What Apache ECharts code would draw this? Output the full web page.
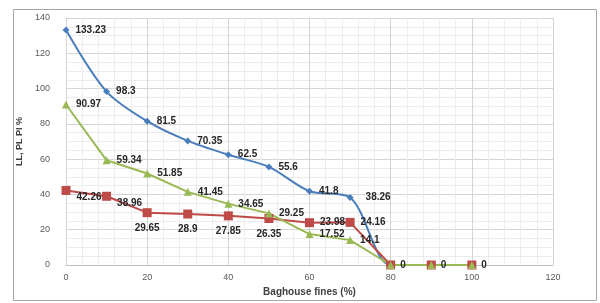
<!DOCTYPE html>
<html>
<head>
<meta charset="utf-8">
<script src="https://cdn.jsdelivr.net/npm/echarts@6/dist/echarts.min.js"></script>
<style>
html, body { margin: 0; padding: 0; background: #fff; }
#chart { width: 600px; height: 303px; }
</style>
</head>
<body>
<div id="chart"></div>
<script>
var fines = [0, 10, 20, 30, 40, 50, 60, 70, 80, 90, 100];
var ll = [133.23, 98.3, 81.5, 70.35, 62.5, 55.6, 41.8, 38.26, 0, 0, 0];
var pl = [42.26, 38.96, 29.65, 28.9, 27.85, 26.35, 23.98, 24.16, 0, 0, 0];
var pi = [90.97, 59.34, 51.85, 41.45, 34.65, 29.25, 17.52, 14.1, 0, 0, 0];

// where each point's label sits
var llPos = ['right', 'right', 'right', 'right', 'right', 'right', 'right', 'right', 'right', 'right', 'right'];
var plPos = ['bottomRight', 'bottomRight', 'bottom', 'bottom', 'bottom', 'bottom', 'right', 'right', 'none', 'none', 'none'];
var piPos = ['right', 'right', 'right', 'right', 'right', 'right', 'right', 'right', 'none', 'none', 'none'];

var labelStyle = { fontSize: 10, fontWeight: 'bold', color: '#262626', fontFamily: 'Liberation Sans' };

function buildData(vals, pos) {
    return vals.map(function (v, i) {
        var p = pos[i];
        var lab = Object.assign({}, labelStyle, { show: p !== 'none', distance: 6 });
        if (p === 'bottomRight') {
            lab.position = 'right';
            lab.offset = [0, 7];
        } else if (p !== 'none') {
            lab.position = p;
        }
        if (i === 7 && vals === ll) lab.distance = 12;
        return { value: [fines[i], v], label: lab };
    });
}

var chart = echarts.init(document.getElementById('chart'));
var option = {
    animation: false,
    graphic: [{
        type: 'rect',
        shape: { x: 13.5, y: 9.5, width: 583, height: 291 },
        style: { fill: 'none', stroke: '#a6a6a6', lineWidth: 1 }
    }],
    grid: { left: 66, right: 47, top: 18, bottom: 38 },
    xAxis: {
        type: 'value', min: 0, max: 120, interval: 20,
        name: 'Baghouse fines (%)', nameLocation: 'middle', nameGap: 18,
        nameTextStyle: { fontSize: 10, fontWeight: 'bold', color: '#404040', fontFamily: 'Liberation Sans' },
        axisLine: { show: true, lineStyle: { color: '#bfbfbf' } },
        axisTick: { show: false },
        axisLabel: { fontSize: 9, color: '#595959', margin: 8 },
        splitLine: { show: true, lineStyle: { color: '#d4d4d4' } },
        minorTick: { show: false, splitNumber: 5 },
        minorSplitLine: { show: true, lineStyle: { color: '#ececec' } }
    },
    yAxis: {
        type: 'value', min: 0, max: 140, interval: 20,
        name: 'LL, PL PI %', nameLocation: 'middle', nameGap: 27, nameRotate: 90,
        nameTextStyle: { fontSize: 9, fontWeight: 'bold', color: '#404040', fontFamily: 'Liberation Sans' },
        axisLine: { show: false },
        axisTick: { show: false },
        axisLabel: { fontSize: 9, color: '#595959', margin: 16 },
        splitLine: { show: true, lineStyle: { color: '#d4d4d4' } },
        minorTick: { show: false, splitNumber: 4 },
        minorSplitLine: { show: true, lineStyle: { color: '#ececec' } }
    },
    series: [
        {
            name: 'LL', type: 'line', smooth: 0.3,
            symbol: 'diamond', symbolSize: 7,
            itemStyle: { color: '#4a7ebb' },
            lineStyle: { width: 2, color: '#4a7ebb' },
            data: buildData(ll, llPos)
        },
        {
            name: 'PL', type: 'line',
            symbol: 'rect', symbolSize: 9,
            itemStyle: { color: '#be4b48' },
            lineStyle: { width: 2, color: '#be4b48' },
            data: buildData(pl, plPos)
        },
        {
            name: 'PI', type: 'line',
            symbol: 'triangle', symbolSize: 8,
            itemStyle: { color: '#98b954' },
            lineStyle: { width: 2, color: '#98b954' },
            data: buildData(pi, piPos)
        }
    ]
};
chart.setOption(option);
</script>
</body>
</html>
